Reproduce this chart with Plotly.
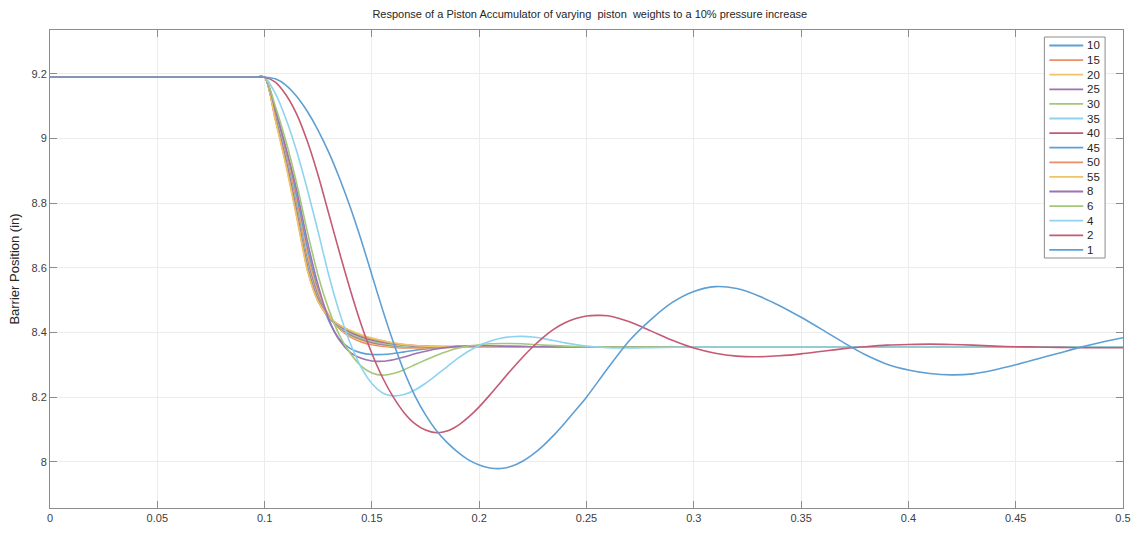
import plotly.graph_objects as go

# ---------------- data ----------------
WEIGHTS = ["10", "15", "20", "25", "30", "35", "40", "45", "50", "55", "8", "6", "4", "2", "1"]

COLORS = ["#5e9fd4", "#e8906a", "#eec466", "#9c73b3", "#a3c878", "#8fd3f0", "#c45a73"]

T_LONG = [0, 0.095, 0.1, 0.105, 0.11, 0.115, 0.12, 0.125, 0.13, 0.135, 0.14, 0.145, 0.15,
          0.155, 0.16, 0.165, 0.17, 0.175, 0.18, 0.185, 0.19, 0.195, 0.2, 0.205, 0.21,
          0.215, 0.22, 0.225, 0.23, 0.235, 0.24, 0.245, 0.25, 0.26, 0.27, 0.28, 0.29,
          0.3, 0.31, 0.32, 0.33, 0.34, 0.35, 0.36, 0.37, 0.38, 0.39, 0.4, 0.41, 0.42,
          0.43, 0.44, 0.45, 0.46, 0.47, 0.48, 0.49, 0.5]

T_MID = [0, 0.095, 0.1, 0.105, 0.11, 0.115, 0.12, 0.125, 0.13, 0.135, 0.14, 0.145, 0.15,
         0.155, 0.16, 0.165, 0.17, 0.175, 0.18, 0.185, 0.19, 0.195, 0.2, 0.205, 0.21,
         0.215, 0.22, 0.225, 0.23, 0.24, 0.25, 0.26, 0.27, 0.28, 0.3, 0.4, 0.5]

T_FAST = [0, 0.095, 0.1, 0.105, 0.11, 0.115, 0.12, 0.125, 0.13, 0.135, 0.14, 0.145, 0.15,
          0.16, 0.17, 0.18, 0.2, 0.3, 0.5]

Y_1 = [9.19, 9.19, 9.19, 9.185, 9.165, 9.13, 9.083, 9.025, 8.956, 8.876, 8.786, 8.686, 8.578,
       8.47, 8.37, 8.28, 8.205, 8.145, 8.097, 8.06, 8.03, 8.006, 7.99, 7.981, 7.979,
       7.986, 8.001, 8.023, 8.051, 8.084, 8.121, 8.16, 8.2, 8.29, 8.375, 8.44, 8.493,
       8.527, 8.542, 8.536, 8.514, 8.483, 8.447, 8.408, 8.368, 8.331, 8.302, 8.284, 8.273, 8.269,
       8.272, 8.284, 8.3, 8.318, 8.336, 8.354, 8.37, 8.384]

Y_2 = [9.19, 9.19, 9.19, 9.175, 9.135, 9.075, 8.99, 8.885, 8.765, 8.645, 8.53, 8.425, 8.335,
       8.26, 8.2, 8.152, 8.118, 8.098, 8.09, 8.095, 8.112, 8.138, 8.17, 8.207, 8.246,
       8.285, 8.322, 8.356, 8.386, 8.411, 8.43, 8.443, 8.451, 8.452, 8.433, 8.405, 8.376,
       8.352, 8.336, 8.327, 8.325, 8.328, 8.334, 8.342, 8.35, 8.356, 8.361, 8.363, 8.364, 8.363,
       8.361, 8.358, 8.356, 8.355, 8.354, 8.353, 8.353, 8.353]

Y_4 = [9.19, 9.19, 9.19, 9.14, 9.06, 8.96, 8.84, 8.71, 8.575, 8.46, 8.365, 8.292, 8.242,
       8.213, 8.204, 8.208, 8.222, 8.243, 8.268, 8.294, 8.32, 8.342, 8.36, 8.373, 8.382,
       8.387, 8.388, 8.386, 8.381, 8.368, 8.358, 8.353, 8.352, 8.353, 8.355, 8.355, 8.355]

Y_6 = [9.19, 9.19, 9.19, 9.1, 8.99, 8.86, 8.71, 8.575, 8.47, 8.39, 8.335, 8.296, 8.275,
       8.268, 8.273, 8.285, 8.3, 8.315, 8.329, 8.341, 8.351, 8.358, 8.362, 8.365, 8.366,
       8.366, 8.365, 8.363, 8.361, 8.358, 8.356, 8.355, 8.355, 8.355, 8.355, 8.355, 8.355]

Y_8 = [9.19, 9.19, 9.19, 9.09, 8.97, 8.84, 8.68, 8.545, 8.44, 8.375, 8.338, 8.32, 8.312,
       8.311, 8.316, 8.324, 8.334, 8.342, 8.349, 8.354, 8.357, 8.358, 8.359, 8.359, 8.358,
       8.357, 8.357, 8.356, 8.356, 8.355, 8.355, 8.355, 8.355, 8.355, 8.355, 8.355, 8.355]

Y_10 = [9.19, 9.19, 9.19, 9.08, 8.96, 8.82, 8.66, 8.53, 8.435, 8.378, 8.35, 8.337, 8.332,
        8.332, 8.335, 8.34, 8.345, 8.349, 8.352, 8.355, 8.357, 8.358, 8.358, 8.358, 8.357,
        8.357, 8.356, 8.356, 8.356, 8.355, 8.355, 8.355, 8.355, 8.355, 8.355, 8.355, 8.355]

Y_15 = [9.19, 9.19, 9.19, 9.09, 8.96, 8.8, 8.64, 8.525, 8.452, 8.41, 8.386, 8.371, 8.362, 8.354, 8.352, 8.353, 8.355, 8.355, 8.355]
Y_20 = [9.19, 9.19, 9.19, 9.085, 8.95, 8.79, 8.63, 8.518, 8.45, 8.412, 8.39, 8.375, 8.366, 8.357, 8.354, 8.354, 8.355, 8.355, 8.355]
Y_25 = [9.19, 9.19, 9.19, 9.08, 8.945, 8.785, 8.62, 8.512, 8.448, 8.414, 8.393, 8.379, 8.369, 8.359, 8.355, 8.355, 8.355, 8.355, 8.355]
Y_30 = [9.19, 9.19, 9.19, 9.075, 8.94, 8.78, 8.61, 8.506, 8.447, 8.416, 8.396, 8.382, 8.372, 8.361, 8.356, 8.355, 8.355, 8.355, 8.355]
Y_35 = [9.19, 9.19, 9.19, 9.07, 8.935, 8.775, 8.605, 8.502, 8.446, 8.418, 8.399, 8.385, 8.375, 8.363, 8.357, 8.356, 8.355, 8.355, 8.355]
Y_40 = [9.19, 9.19, 9.19, 9.066, 8.93, 8.77, 8.6, 8.5, 8.446, 8.42, 8.401, 8.387, 8.377, 8.365, 8.358, 8.356, 8.355, 8.355, 8.355]
Y_45 = [9.19, 9.19, 9.19, 9.063, 8.925, 8.765, 8.597, 8.498, 8.446, 8.421, 8.403, 8.389, 8.379, 8.366, 8.359, 8.356, 8.355, 8.355, 8.355]
Y_50 = [9.19, 9.19, 9.19, 9.06, 8.92, 8.76, 8.594, 8.496, 8.447, 8.422, 8.405, 8.391, 8.381, 8.367, 8.36, 8.357, 8.355, 8.355, 8.355]
Y_55 = [9.19, 9.19, 9.19, 9.057, 8.915, 8.755, 8.59, 8.494, 8.448, 8.423, 8.406, 8.393, 8.383, 8.368, 8.36, 8.357, 8.355, 8.355, 8.355]

SERIES = {
    "10": (T_MID, Y_10), "15": (T_FAST, Y_15), "20": (T_FAST, Y_20), "25": (T_FAST, Y_25),
    "30": (T_FAST, Y_30), "35": (T_FAST, Y_35), "40": (T_FAST, Y_40), "45": (T_FAST, Y_45),
    "50": (T_FAST, Y_50), "55": (T_FAST, Y_55), "8": (T_MID, Y_8), "6": (T_MID, Y_6),
    "4": (T_MID, Y_4), "2": (T_LONG, Y_2), "1": (T_LONG, Y_1),
}

X_TICKS = [0, 0.05, 0.1, 0.15, 0.2, 0.25, 0.3, 0.35, 0.4, 0.45, 0.5]
Y_TICKS = [8, 8.2, 8.4, 8.6, 8.8, 9, 9.2]

TITLE = "Response of a Piston Accumulator of varying\u00a0 piston\u00a0 weights to a 10% pressure increase"

# ---------------- layout geometry (pixels) ----------------
W, H = 1143, 539
ML, MR, MT, MB = 50, 15, 30, 31
PW, PH = W - ML - MR, H - MT - MB


def px(xp):
    return (xp - ML) / PW


def py(yp):
    return (H - MB - yp) / PH


# ---------------- figure ----------------
fig = go.Figure()
for i, w in enumerate(WEIGHTS):
    t, y = SERIES[w]
    assert len(t) == len(y), w
    fig.add_trace(go.Scatter(
        x=t, y=y, name=w, mode="lines", showlegend=False,
        line=dict(color=COLORS[i % len(COLORS)], width=1.6, shape="spline", smoothing=0.7),
    ))

FONT = "Liberation Sans, DejaVu Sans, sans-serif"

# legend box drawn to match the compact legend of the reference
LEG_L, LEG_R, LEG_T, LEG_B = 1049, 1110, 37, 258
ROW0, ROW_H = 45.5, 14.6
shapes = [dict(type="rect", xref="paper", yref="paper",
               x0=px(LEG_L), x1=px(LEG_R), y0=py(LEG_B), y1=py(LEG_T),
               fillcolor="white", line=dict(color="#8c8c8c", width=1), layer="above")]
annotations = []
for i, w in enumerate(WEIGHTS):
    yc = ROW0 + i * ROW_H
    shapes.append(dict(type="line", xref="paper", yref="paper",
                       x0=px(1054), x1=px(1088), y0=py(yc), y1=py(yc),
                       line=dict(color=COLORS[i % len(COLORS)], width=1.8), layer="above"))
    annotations.append(dict(text=w, xref="paper", yref="paper", x=px(1090), y=py(yc),
                            xanchor="left", yanchor="middle", showarrow=False,
                            font=dict(family=FONT, size=11.5, color="#262626")))

fig.update_layout(
    width=W, height=H,
    margin=dict(l=ML, r=MR, t=MT, b=MB),
    paper_bgcolor="white", plot_bgcolor="white",
    font=dict(family=FONT, size=11, color="#404040"),
    title=dict(text=TITLE, x=0.516, xanchor="center", y=1 - 14 / 539, yanchor="middle",
               font=dict(family=FONT, size=11, color="#262626")),
    showlegend=False,
    shapes=shapes,
    annotations=annotations,
)
fig.update_xaxes(range=[0, 0.5], tickvals=X_TICKS, ticktext=[f"{v:g}" for v in X_TICKS],
                 showgrid=True, gridcolor="#ececec", gridwidth=1,
                 showline=True, linecolor="#8c8c8c", linewidth=1, mirror="allticks",
                 ticks="inside", ticklen=7, tickcolor="#8c8c8c", zeroline=False,
                 tickfont=dict(size=11, color="#404040"))
fig.update_yaxes(range=[7.857, 9.336], tickvals=Y_TICKS, ticktext=[f"{v:g}" for v in Y_TICKS],
                 showgrid=True, gridcolor="#ececec", gridwidth=1,
                 showline=True, linecolor="#8c8c8c", linewidth=1, mirror="allticks",
                 ticks="inside", ticklen=7, tickcolor="#8c8c8c", zeroline=False,
                 tickfont=dict(size=11, color="#404040"),
                 title=dict(text="Barrier Position (in)", standoff=8,
                            font=dict(family=FONT, size=13, color="#262626")))

fig.write_html("out.html")
